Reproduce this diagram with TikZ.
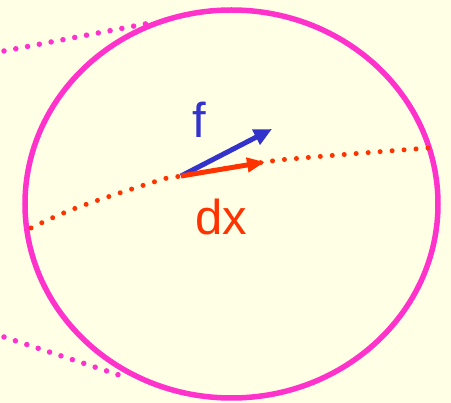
\documentclass[tikz,border=0pt]{standalone}
\usepackage{fontspec}
\setmainfont{Liberation Sans}
\usepackage{tikz}
\usetikzlibrary{calc, positioning, arrows.meta}
\usepackage{xcolor}
\definecolor{paper}{RGB}{255, 255, 230}
\definecolor{rim}{RGB}{255, 51, 204}
\definecolor{force}{RGB}{51, 51, 204}
\definecolor{path}{RGB}{255, 51, 0}

\tikzset{
  dots/.style={line width=5.5pt, line cap=round, dash pattern=on 0pt off 12pt},
  vec/.style={line width=5pt, -{Triangle[length=18pt, width=16pt]}},
}

\begin{document}
\begin{tikzpicture}[x=1pt, y=-1pt]
  % Background
  \fill[paper] (0,0) rectangle (451,403);
  \useasboundingbox (0,0) rectangle (451,403);
  % Dotted tangents
  \draw[rim, dots] (4,51) -- (150,23);
  \draw[rim, dots] (4,337) -- (125,377);
  % Circle
  \draw[rim, line width=5.5pt] (231.5,204) ellipse [x radius=206.5pt, y radius=194pt];
  % Dotted path
  \draw[path, dots, line width=5pt] plot[smooth, tension=0.6] coordinates
    {(31,228) (76,208) (157,181) (181,176) (265,162) (302,158) (363,153) (428,148)};
  % Vectors
  \coordinate (p) at (181,176);
  \coordinate (ftip) at (272,129);
  \coordinate (dxtip) at (265,162);
  \draw[force, vec] (p) -- (ftip);
  \draw[path, vec, -{Triangle[length=18pt, width=14pt]}] (p) -- (dxtip);
  \node[force, font=\fontsize{49}{49}\selectfont] (flabel) at (199.5,120) {f};
  \node[path, font=\fontsize{49}{49}\selectfont, anchor=base] (dxlabel) at (221,235) {dx};
\end{tikzpicture}
\end{document}
